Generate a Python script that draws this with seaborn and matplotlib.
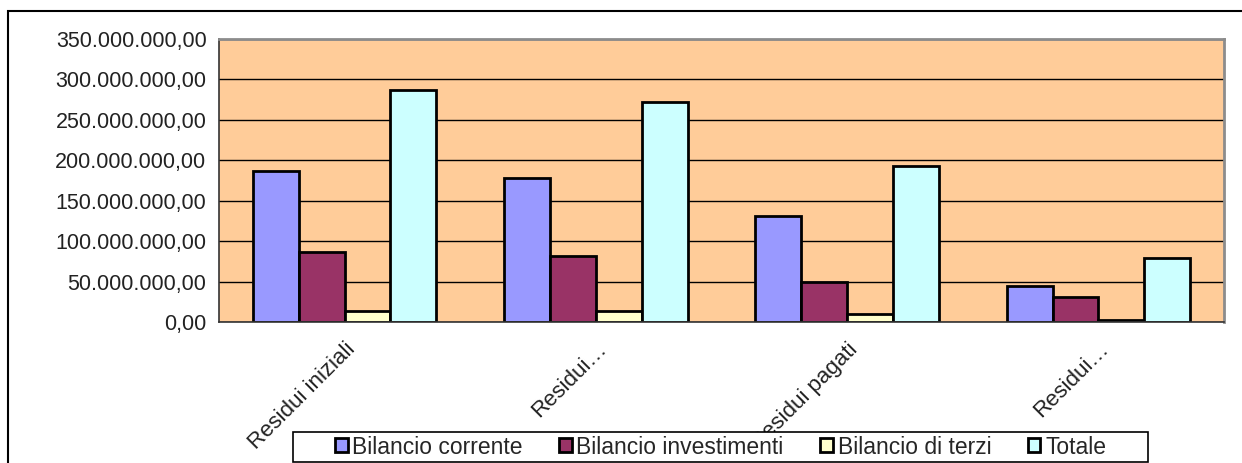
import matplotlib
matplotlib.use("Agg")
import matplotlib.pyplot as plt
import matplotlib.ticker as mticker
from matplotlib.patches import Rectangle
import numpy as np
import pandas as pd
import seaborn as sns

categorie = ["Residui iniziali", "Residui…", "Residui pagati", "Residui…"]
serie = ["Bilancio corrente", "Bilancio investimenti", "Bilancio di terzi", "Totale"]
bilancio_corrente = [186_500_000, 177_500_000, 131_000_000, 44_500_000]
bilancio_investimenti = [86_500_000, 81_500_000, 49_500_000, 31_000_000]
bilancio_terzi = [13_500_000, 13_500_000, 10_000_000, 2_000_000]
totale = [286_500_000, 272_500_000, 193_000_000, 79_500_000]
colori = ["#9999FF", "#993366", "#FFFFCC", "#CCFFFF"]

sns.set_style("white")
plt.rcParams["font.family"] = ["Liberation Sans", "DejaVu Sans"]

# long form, one row per bar; categories get a position key because two labels repeat
rows = []
for i, cat in enumerate(categorie):
    for nome, valori in zip(serie, [bilancio_corrente, bilancio_investimenti, bilancio_terzi, totale]):
        rows.append({"pos": i, "serie": nome, "valore": valori[i]})
df = pd.DataFrame(rows)

W, H = 1242, 463
fig = plt.figure(figsize=(W / 100, H / 100), dpi=100)
ax = fig.add_axes([219 / W, 1 - 322 / H, (1224 - 219) / W, (322 - 39) / H])

sns.barplot(
    data=df, x="pos", y="valore", hue="serie", hue_order=serie,
    palette=colori, width=0.73, gap=0, edgecolor="black", linewidth=2,
    saturation=1, ax=ax, legend=False,
)

ax.set_facecolor("#FFCC99")
ax.set_ylim(0, 350_000_000)
ax.set_xlim(-0.5, 3.5)
ax.yaxis.set_major_locator(mticker.MultipleLocator(50_000_000))
ax.yaxis.set_major_formatter(mticker.FuncFormatter(
    lambda v, p: f"{v:,.2f}".replace(",", "X").replace(".", ",").replace("X", ".")))
ax.grid(axis="y", color="black", linewidth=1)
ax.set_axisbelow(True)

ax.set_xticks(range(len(categorie)))
ax.set_xticklabels(categorie, rotation=45, ha="right", va="top", rotation_mode="anchor")
ax.set_xticks([0.5, 1.5, 2.5, 3.5], minor=True)
ax.tick_params(axis="x", which="major", length=0, labelsize=16, pad=12)
ax.tick_params(axis="x", which="minor", length=6, width=1, color="#333333", direction="out")
ax.tick_params(axis="y", length=6, width=1, color="#333333", direction="out", labelsize=15.5, pad=3)
for lab in ax.get_yticklabels():
    lab.set_color("#222222")
for lab in ax.get_xticklabels():
    lab.set_color("#222222")
ax.set_xlabel("")
ax.set_ylabel("")

for side in ["top", "right"]:
    ax.spines[side].set_visible(True)
    ax.spines[side].set_color("#8C8C8C")
    ax.spines[side].set_linewidth(2)
for side in ["left", "bottom"]:
    ax.spines[side].set_color("#333333")
    ax.spines[side].set_linewidth(1.2)

# legend box drawn by hand so its width matches the original
fig.patches.append(Rectangle((293 / W, 1 - 462 / H), (1148 - 293) / W, 30 / H,
                             transform=fig.transFigure, facecolor="white",
                             edgecolor="black", linewidth=1.2, zorder=9))
handles = [Rectangle((0, 0), 1, 1, facecolor=c, edgecolor="black", linewidth=2) for c in colori]
leg = fig.legend(
    handles, serie, loc="center", bbox_to_anchor=(720.5 / W, 1 - 447 / H),
    ncol=4, fontsize=16.5, frameon=False,
    handlelength=0.55, handleheight=0.55, handletextpad=0.2, borderpad=0,
    borderaxespad=0, columnspacing=1.6,
)
leg.set_zorder(10)

fig.patches.append(Rectangle((8 / W, -0.05), 1.1, 1 - 11 / H + 0.05,
                             transform=fig.transFigure, fill=False,
                             edgecolor="black", linewidth=1.5, zorder=0))

fig.savefig("out.png", dpi=100)
